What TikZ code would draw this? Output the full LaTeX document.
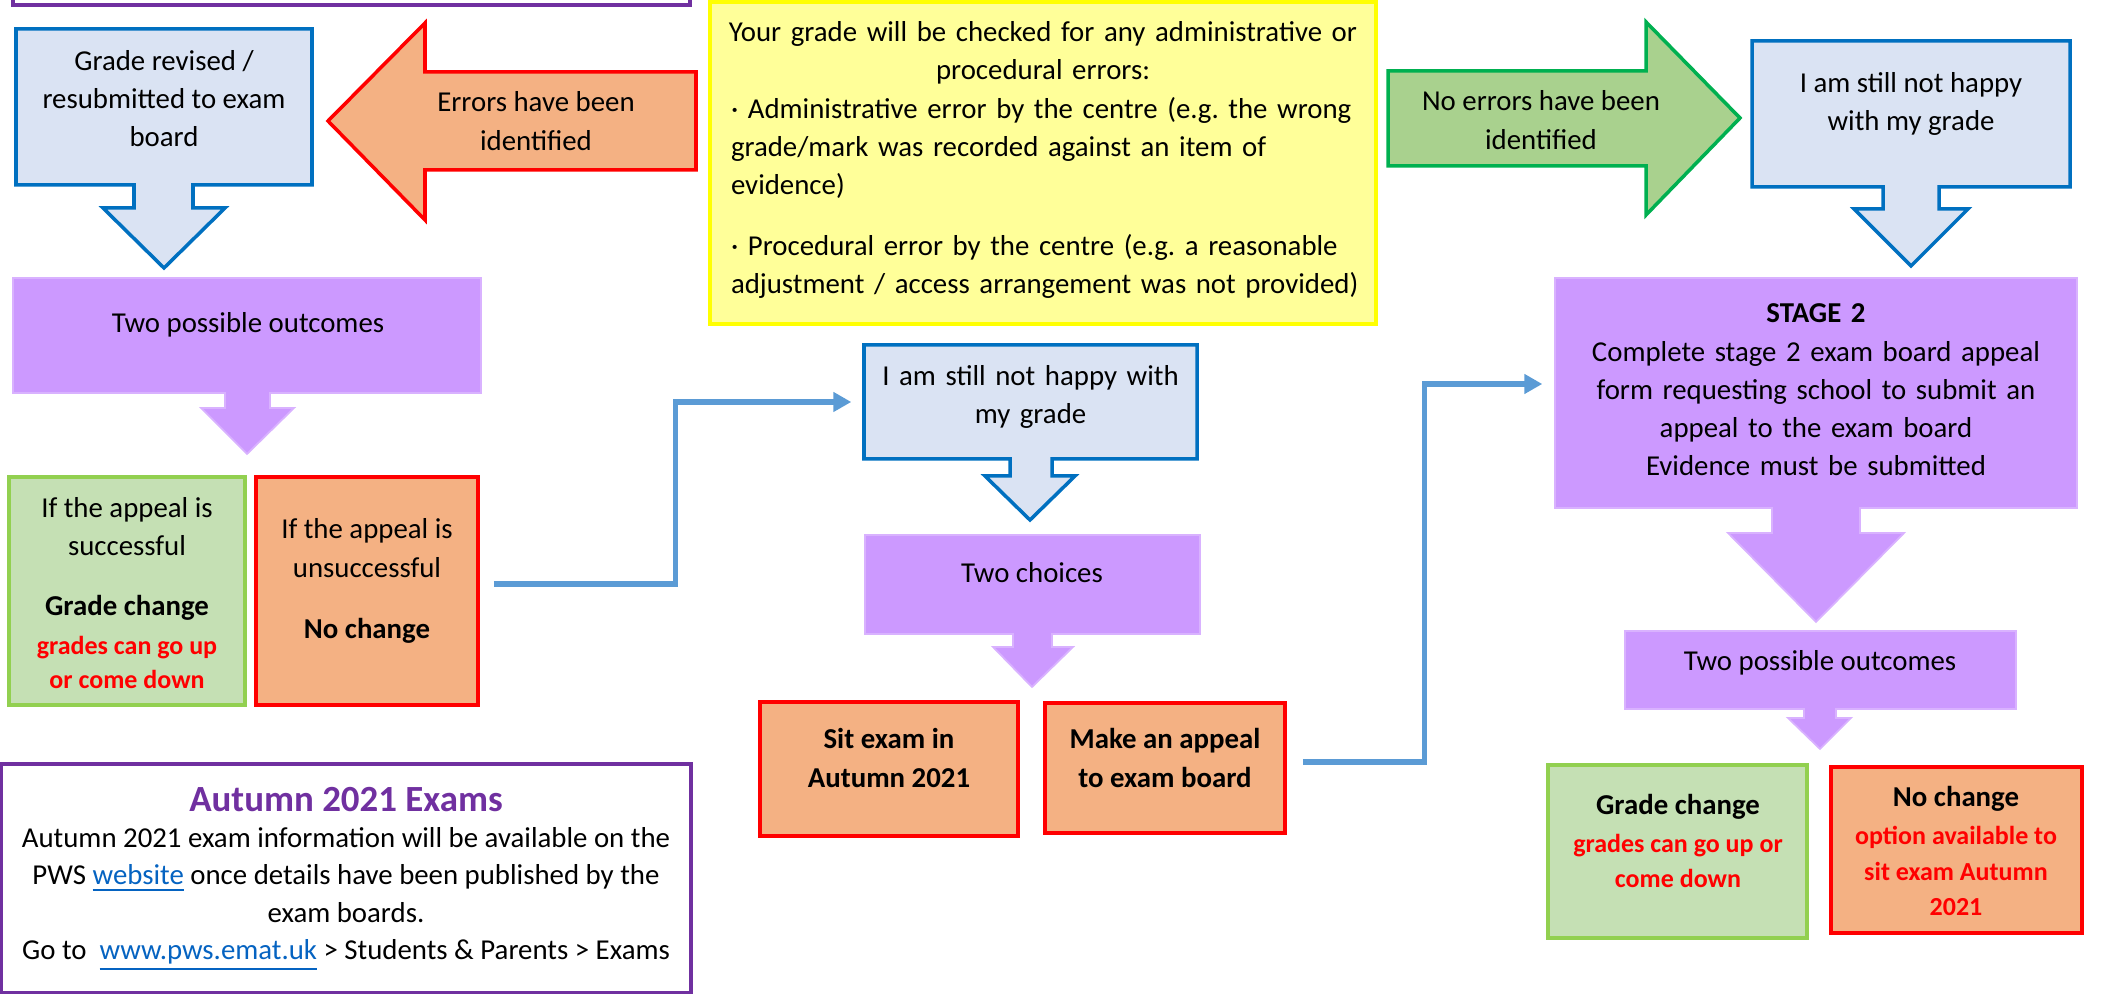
\documentclass[tikz,border=0pt]{standalone}
\usepackage{fontspec}
\setmainfont{Carlito}
\usetikzlibrary{arrows.meta}
\definecolor{boxblue}{HTML}{DAE3F3}
\definecolor{lineblue}{HTML}{0070C0}
\definecolor{lilac}{HTML}{CC99FF}
\definecolor{peach}{HTML}{F4B183}
\definecolor{sage}{HTML}{C5E0B4}
\definecolor{sageline}{HTML}{92D050}
\definecolor{leaf}{HTML}{A9D18E}
\definecolor{leafline}{HTML}{00B050}
\definecolor{lemon}{HTML}{FFFF99}
\definecolor{lemonline}{HTML}{FFFF00}
\definecolor{plum}{HTML}{7030A0}
\definecolor{connblue}{HTML}{5B9BD5}
\definecolor{linkblue}{HTML}{0563C1}
\definecolor{alertred}{HTML}{FF0000}
\newcommand{\redb}[1]{{\color{alertred}\bfseries\fontsize{7.4}{9.8}\selectfont #1}}
\newcommand{\weblink}[1]{{\color{linkblue}\underline{#1}}}
\frenchspacing

\begin{document}
\begin{tikzpicture}[
  txt/.style={inner sep=0pt, align=center, font=\fontsize{8.2}{10.9}\selectfont},
  bluecall/.style={fill=boxblue, draw=lineblue, line width=1pt},
  lilaccall/.style={fill=lilac, draw=lilac!75!white, line width=0.5pt},
  greenbox/.style={fill=sage, draw=sageline, line width=1pt},
  redbox/.style={fill=peach, draw=alertred, line width=1pt},
  conn/.style={draw=connblue, line width=1.5pt, -{Triangle[length=1.8mm,width=1.9mm]}}
]
\useasboundingbox (0,0) rectangle (21.12,-9.94);

% top purple box (cut off)
\draw[draw=plum, line width=1pt] (0.13,0.3) rectangle (6.90,-0.05);

% left column
\filldraw[bluecall] (0.16,-0.29) -- (3.12,-0.29) -- (3.12,-1.85) -- (1.93,-1.85) -- (1.93,-2.08) -- (2.25,-2.08) -- (1.64,-2.68) -- (1.03,-2.08) -- (1.34,-2.08) -- (1.34,-1.85) -- (0.16,-1.85) -- cycle;
\filldraw[fill=peach, draw=alertred, line width=1pt] (6.96,-0.72) -- (4.25,-0.72) -- (4.25,-0.23) -- (3.28,-1.21) -- (4.25,-2.20) -- (4.25,-1.70) -- (6.96,-1.70) -- cycle;
\filldraw[lilaccall] (0.13,-2.78) -- (4.81,-2.78) -- (4.81,-3.93) -- (2.70,-3.93) -- (2.70,-4.08) -- (2.94,-4.08) -- (2.47,-4.54) -- (2.01,-4.08) -- (2.25,-4.08) -- (2.25,-3.93) -- (0.13,-3.93) -- cycle;
\node[greenbox, minimum width=2.36cm, minimum height=2.28cm] (succ) at (1.27,-5.91) {};
\node[redbox, minimum width=2.22cm, minimum height=2.28cm] (unsucc) at (3.67,-5.91) {};
\node[draw=plum, line width=1pt, minimum width=6.90cm, minimum height=2.29cm] (autumn) at (3.46,-8.785) {};

% labels
\node[txt] (revised) at (1.64,-0.985) {Grade revised /\\resubmitted to exam\\board};
\node[txt] (errors) at (5.36,-1.21) {Errors have been\\identified};
\node[txt] (outcomesL) at (2.48,-3.25) {Two possible outcomes};
\node[txt] (succtxt) at (1.27,-5.93) {If the appeal is\\successful\\[0.22cm]\textbf{Grade change}\\\redb{grades can go up}\\[-0.04cm]\redb{or come down}};
\node[txt] (unsucctxt) at (3.67,-5.81) {If the appeal is\\unsuccessful\\[0.23cm]\textbf{No change}};
\node[txt] (autumntxt) at (3.46,-8.79) {{\color{plum}\bfseries\fontsize{10.5}{12}\selectfont Autumn 2021 Exams}\\[-0.02cm]
  Autumn 2021 exam information will be available on the\\[-0.01cm]
  PWS \weblink{website} once details have been published by the\\[-0.01cm]
  exam boards.\\[-0.01cm]
  Go to\ \ \weblink{www.pws.emat.uk} > Students \& Parents > Exams};

% middle column
\node[fill=lemon, draw=lemonline, line width=1pt, minimum width=6.66cm, minimum height=3.22cm] (check) at (10.43,-1.63) {};
\filldraw[bluecall] (8.64,-3.45) -- (11.97,-3.45) -- (11.97,-4.59) -- (10.52,-4.59) -- (10.52,-4.76) -- (10.75,-4.76) -- (10.30,-5.20) -- (9.85,-4.76) -- (10.10,-4.76) -- (10.10,-4.59) -- (8.64,-4.59) -- cycle;
\filldraw[lilaccall] (8.65,-5.35) -- (12.00,-5.35) -- (12.00,-6.34) -- (10.52,-6.34) -- (10.52,-6.47) -- (10.73,-6.47) -- (10.32,-6.87) -- (9.93,-6.47) -- (10.13,-6.47) -- (10.13,-6.34) -- (8.65,-6.34) -- cycle;
\node[redbox, minimum width=2.58cm, minimum height=1.34cm] (sitexam) at (8.89,-7.69) {};
\node[redbox, minimum width=2.40cm, minimum height=1.30cm] (appeal) at (11.65,-7.68) {};

\node[txt, align=left, text width=6.6cm] (checktxt) at (10.61,-1.60) {%
  \makebox[6.24cm]{Your grade will be checked for any administrative or}\\
  \makebox[6.24cm]{procedural errors:}\\
  · Administrative error by the centre (e.g. the wrong\\
  grade/mark was recorded against an item of\\
  evidence)\\[0.22cm]
  · Procedural error by the centre (e.g. a reasonable\\
  adjustment / access arrangement was not provided)};
\node[txt, text width=3.33cm] (happy2) at (10.305,-3.97) {I am still not happy with\\my grade};
\node[txt] (choices) at (10.32,-5.73) {Two choices};
\node[txt] (sittxt) at (8.89,-7.58) {\textbf{Sit exam in}\\\textbf{Autumn 2021}};
\node[txt] (appealtxt) at (11.65,-7.58) {\textbf{Make an appeal}\\\textbf{to exam board}};

% right column
\filldraw[fill=leaf, draw=leafline, line width=1pt] (13.88,-0.71) -- (16.46,-0.71) -- (16.46,-0.22) -- (17.40,-1.18) -- (16.46,-2.15) -- (16.46,-1.66) -- (13.88,-1.66) -- cycle;
\filldraw[bluecall] (17.52,-0.41) -- (20.70,-0.41) -- (20.70,-1.87) -- (19.39,-1.87) -- (19.39,-2.09) -- (19.68,-2.09) -- (19.11,-2.66) -- (18.54,-2.09) -- (18.83,-2.09) -- (18.83,-1.87) -- (17.52,-1.87) -- cycle;
\filldraw[lilaccall] (15.55,-2.78) -- (20.77,-2.78) -- (20.77,-5.08) -- (18.60,-5.08) -- (18.60,-5.33) -- (19.04,-5.33) -- (18.16,-6.22) -- (17.28,-5.33) -- (17.72,-5.33) -- (17.72,-5.08) -- (15.55,-5.08) -- cycle;
\filldraw[lilaccall] (16.25,-6.31) -- (20.16,-6.31) -- (20.16,-7.09) -- (18.36,-7.09) -- (18.36,-7.18) -- (18.51,-7.18) -- (18.20,-7.49) -- (17.88,-7.18) -- (18.04,-7.18) -- (18.04,-7.09) -- (16.25,-7.09) -- cycle;
\node[greenbox, minimum width=2.59cm, minimum height=1.73cm] (gradechg) at (16.775,-8.515) {};
\node[redbox, minimum width=2.51cm, minimum height=1.66cm] (nochg) at (19.565,-8.50) {};

\node[txt] (noerrors) at (15.41,-1.20) {No errors have been\\identified};
\node[txt] (happy1) at (19.11,-1.04) {I am still not happy\\with my grade};
\node[txt, text width=5.22cm] (stage2) at (18.16,-3.90) {\textbf{STAGE 2}\\Complete stage 2 exam board appeal\\form requesting school to submit an\\appeal to the exam board\\Evidence must be submitted};
\node[txt] (outcomesR) at (18.20,-6.63) {Two possible outcomes};
\node[txt] (gradechgtxt) at (16.78,-8.41) {\textbf{Grade change}\\\redb{grades can go up or}\\[-0.03cm]\redb{come down}};
\node[txt] (nochgtxt) at (19.56,-8.51) {\textbf{No change}\\\redb{option available to}\\[-0.03cm]\redb{sit exam Autumn}\\[-0.03cm]\redb{2021}};

% connectors
\draw[conn] ([xshift=1.4mm,yshift=0.7mm]unsucc.east) -- ++(1.82,0) |- ([xshift=-1.2mm,yshift=-0.5mm]happy2.west);
\draw[conn] ([xshift=1.6mm,yshift=0.6mm]appeal.east) -- ++(1.22,0) |- ([xshift=-1.2mm,yshift=0.6mm]stage2.west);

\end{tikzpicture}
\end{document}
